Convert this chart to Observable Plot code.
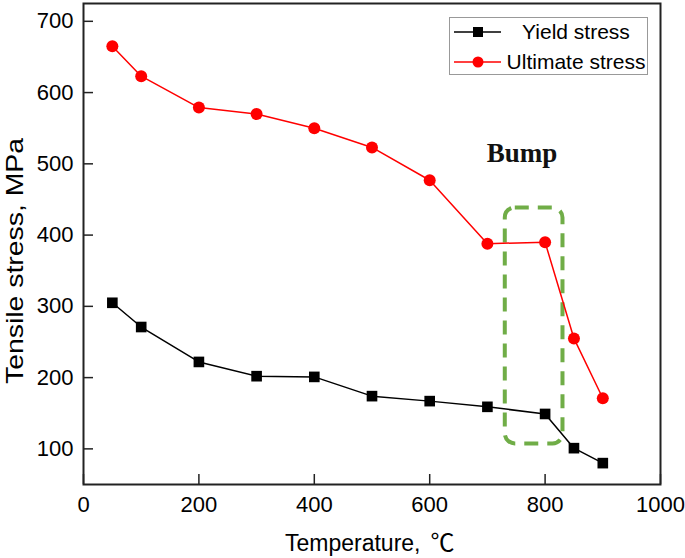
<!DOCTYPE html>
<html>
<head>
<meta charset="utf-8">
<script src="https://cdn.jsdelivr.net/npm/d3@7"></script>
<script src="https://cdn.jsdelivr.net/npm/@observablehq/plot@0.6"></script>
<style>
  body { margin: 0; background: #fff; }
  #wrap { position: relative; width: 685px; height: 558px; }
  #overlay { position: absolute; left: 0; top: 0; }
</style>
</head>
<body>
<div id="wrap"></div>
<script>
const temperature = [50, 100, 200, 300, 400, 500, 600, 700, 800, 850, 900];
const yieldStress = [305, 271, 222, 202, 201, 174, 167, 159, 149, 101, 80];
const ultimateStress = [665, 623, 579, 570, 550, 523, 477, 388, 390, 255, 171];
const xTicks = [0, 200, 400, 600, 800, 1000];
const yTicks = [100, 200, 300, 400, 500, 600, 700];
const seriesNames = ["Yield stress", "Ultimate stress"];
const xLabel = "Temperature,";
const xUnit = "℃";
const yLabel = "Tensile stress, MPa";
const bumpLabel = "Bump";
const bumpBox = [{x1: 731, x2: 831, y1: 107, y2: 438}];
const bumpText = [{x: 760, y: 514, text: bumpLabel}];

const yieldData = temperature.map((t, i) => ({t, v: yieldStress[i]}));
const ultData = temperature.map((t, i) => ({t, v: ultimateStress[i]}));

const chart = Plot.plot({
  width: 685,
  height: 558,
  marginLeft: 83,
  marginRight: 25,
  marginTop: 3,
  marginBottom: 74,
  style: {fontFamily: "'Liberation Sans', Arial, sans-serif", fontSize: "22px", color: "#000", background: "#fff"},
  x: {domain: [0, 1000]},
  y: {domain: [50, 725]},
  marks: [
    Plot.axisX({ticks: xTicks, tickSize: -10, tickFormat: () => "", stroke: "#222", strokeWidth: 1.5, label: null}),
    Plot.axisX({ticks: xTicks, tickSize: 0, tickPadding: 12, fontSize: 22, tickFormat: d => String(d), label: null}),
    Plot.axisY({ticks: yTicks, tickSize: -10, tickFormat: () => "", stroke: "#222", strokeWidth: 1.5, label: null}),
    Plot.axisY({ticks: yTicks, tickSize: 0, tickPadding: 10, fontSize: 22, tickFormat: d => String(d), label: null}),
    Plot.frame({stroke: "#222", strokeWidth: 2}),
    Plot.rect(bumpBox, {x1: "x1", x2: "x2", y1: "y1", y2: "y2", fill: "none", stroke: "#70AD47", strokeWidth: 4, strokeDasharray: "14,9", rx: 10}),
    Plot.text(bumpText, {x: "x", y: "y", text: "text", fontFamily: "'Liberation Serif', 'Times New Roman', serif", fontWeight: "bold", fontSize: 27, fill: "#111"}),
    Plot.line(yieldData, {x: "t", y: "v", stroke: "#000", strokeWidth: 1.5}),
    Plot.dot(yieldData, {x: "t", y: "v", symbol: "square", r: 6, fill: "#000"}),
    Plot.line(ultData, {x: "t", y: "v", stroke: "#ff0000", strokeWidth: 1.5}),
    Plot.dot(ultData, {x: "t", y: "v", symbol: "circle", r: 6, fill: "#ff0000"})
  ]
});
document.getElementById("wrap").appendChild(chart);

// Overlay: axis titles and legend
const svg = d3.select("#wrap").append("svg")
  .attr("id", "overlay").attr("width", 685).attr("height", 558)
  .style("font-family", "'Liberation Sans', Arial, sans-serif");

// y axis title
svg.append("text")
  .attr("transform", "translate(15,261) rotate(-90)")
  .attr("text-anchor", "middle").attr("dy", "0.35em")
  .attr("font-size", 24)
  .attr("textLength", 246).attr("lengthAdjust", "spacingAndGlyphs")
  .text(yLabel);

// x axis title
const xt = svg.append("text")
  .attr("x", 285).attr("y", 543).attr("dy", "0.35em")
  .attr("font-size", 23);
xt.append("tspan").text(xLabel);
xt.append("tspan").attr("dx", 10).attr("font-family", "'Noto Sans CJK SC', 'DejaVu Sans', sans-serif").attr("font-size", 24).text(xUnit);

// legend
svg.append("rect").attr("x", 449.5).attr("y", 17.5).attr("width", 198).attr("height", 57)
  .attr("fill", "#fff").attr("stroke", "#999").attr("stroke-width", 1);
const legendItems = [
  {name: seriesNames[0], color: "#000", sym: "square"},
  {name: seriesNames[1], color: "#ff0000", sym: "circle"}
];
legendItems.forEach((d, i) => {
  const cy = 32 + i * 30;
  svg.append("line").attr("x1", 454).attr("x2", 501).attr("y1", cy).attr("y2", cy)
    .attr("stroke", d.color).attr("stroke-width", 1.5);
  if (d.sym === "square") {
    svg.append("rect").attr("x", 473).attr("y", cy - 5).attr("width", 10).attr("height", 10).attr("fill", d.color);
  } else {
    svg.append("circle").attr("cx", 478).attr("cy", cy).attr("r", 5.5).attr("fill", d.color);
  }
  svg.append("text").attr("x", 576).attr("y", cy).attr("dy", "0.35em").attr("text-anchor", "middle")
    .attr("font-size", 21).text(d.name);
});
</script>
</body>
</html>
